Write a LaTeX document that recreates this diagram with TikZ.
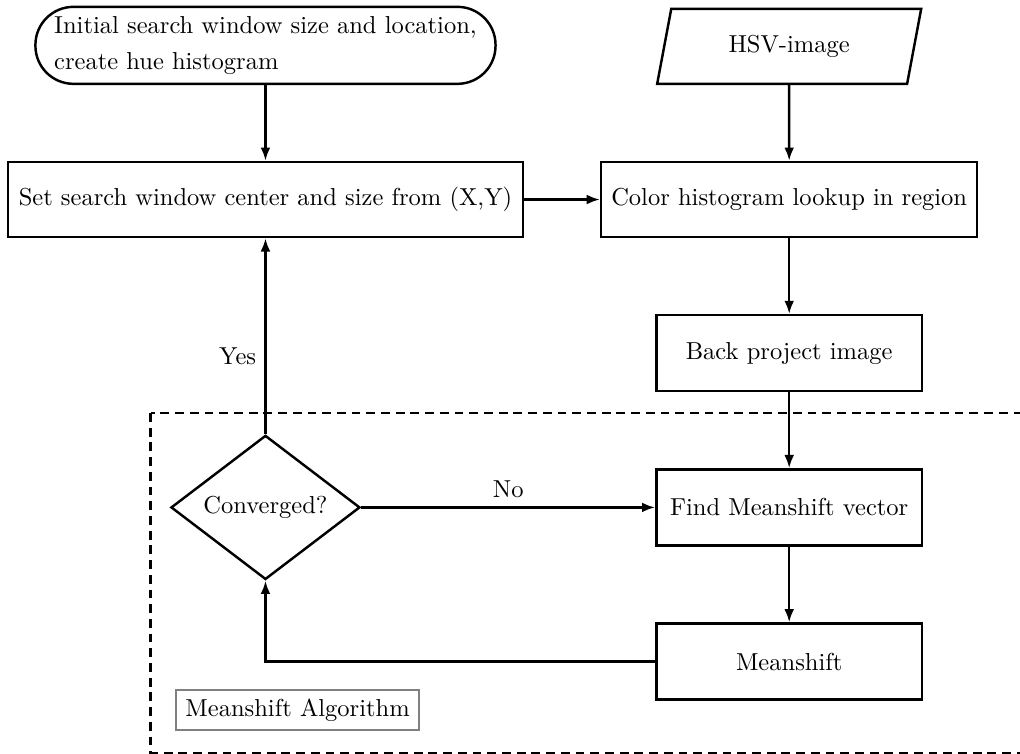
\documentclass[tikz,border=0pt]{standalone}
\usepackage{tikz}
\usetikzlibrary{arrows.meta,positioning,shapes.geometric}

\begin{document}
\begin{tikzpicture}[node distance=30.9pt, line width=1pt,
  proc/.style={draw,minimum height=30.6pt,align=center},
  io/.style={draw,trapezium,trapezium left angle=70,trapezium right angle=110,trapezium stretches body,minimum width=107.7pt,minimum height=30.6pt},
  term/.style={draw,rounded corners=15.5pt,minimum width=187.7pt,minimum height=31.4pt,align=left},
  decision/.style={draw,diamond,aspect=1.31,minimum width=77.1pt,minimum height=58.8pt,inner sep=0pt},
  tag/.style={draw=gray,minimum width=99.2pt,minimum height=16.3pt},
  algobox/.style={dash pattern=on 3.6pt off 2.4pt},
  arr/.style={-{Latex[length=5.4pt,width=4pt]}}]
\useasboundingbox (-108.3pt,-225.8pt) rectangle (307.8pt,81.4pt);
\node[proc,minimum width=210.1pt] (setwin) {Set search window center and size from (X,Y)};
\node[term,above=of setwin,inner ysep=1pt] (init) {Initial search window size and location,\\[2.6pt]create hue histogram};
\node[proc,minimum width=153.4pt,right=of setwin] (lookup) {Color histogram lookup in region};
\node[io,above=of lookup] (hsv) {HSV-image};
\node[proc,minimum width=108.3pt,minimum height=31pt,below=of lookup] (backproj) {Back project image};
\node[proc,minimum width=108.3pt,minimum height=31pt,below=of backproj] (findvec) {Find Meanshift vector};
\node[proc,minimum width=108.3pt,minimum height=31pt,below=of findvec] (shift) {Meanshift};
\node[decision] (conv) at (setwin |- findvec) {Converged?};
\node[tag] (algo) at (13.1pt,-208.3pt) {Meanshift Algorithm};
% dashed frame of the meanshift loop
\coordinate[below=8.4pt of backproj.south] (looptop);
\coordinate[below=8.8pt of algo.south] (loopbot);
\coordinate[left=7.8pt of conv.west] (loopleft);
\coordinate[right=45pt of shift.east] (loopright);
\draw[algobox] (loopleft |- looptop) rectangle (loopright |- loopbot);
\draw[arr] (init) -- (setwin);
\draw[arr] (hsv) -- (lookup);
\draw[arr] (setwin) -- (lookup);
\draw[arr] (lookup) -- (backproj);
\draw[arr] (backproj) -- (findvec);
\draw[arr] (findvec) -- (shift);
\draw[arr] (shift) -| (conv);
\draw[arr] (conv) -- node[above]{No} (findvec);
\draw[arr] (conv) -- node[left,pos=0.4]{Yes} (setwin);
\end{tikzpicture}
\end{document}
